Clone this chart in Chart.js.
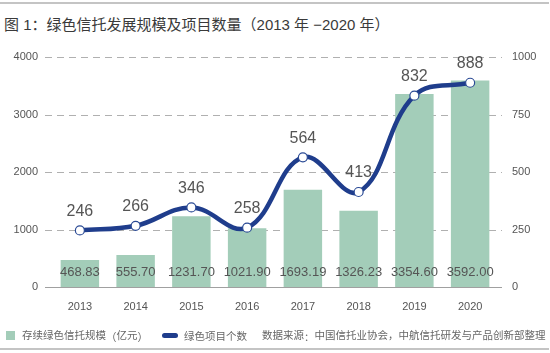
<!DOCTYPE html>
<html>
<head>
<meta charset="utf-8">
<script src="https://cdn.jsdelivr.net/npm/chart.js@4"></script>
<style>
  html, body { margin: 0; padding: 0; background: #fff; }
  body { width: 550px; height: 353px; position: relative; overflow: hidden;
         font-family: "Liberation Sans", "Noto Sans CJK SC", sans-serif; }
  .rule { position: absolute; left: 0; width: 549px; height: 2px; background: #c4c4c4; }
  #title { position: absolute; left: 4px; top: 13px; font-size: 15px; color: #3a3a3a; white-space: nowrap; }
  .cjk { font-family: "Noto Sans CJK SC", sans-serif; }
  #chartBox { position: absolute; left: 0; top: 0; width: 550px; height: 353px; }
  #legend { position: absolute; left: 6px; top: 327px; font-size: 10.5px; color: #666; white-space: nowrap; }
  #legend span { display: inline-block; vertical-align: middle; }
  .sq { width: 9px; height: 9px; background: #a3cdb9; margin-right: 7px; }
  .ln { width: 16px; height: 5px; border-radius: 3px; background: #1f3d8c; margin: 0 6px 0 14px; }
</style>
</head>
<body>
<div class="rule" style="top:2px"></div>
<div id="title">图 1<span class="cjk">：</span>绿色信托发展规模及项目数量<span class="cjk">（</span>2013 年 −2020 年<span class="cjk">）</span></div>
<div id="chartBox"><canvas id="chart"></canvas></div>
<div id="legend"><span class="sq"></span><span>存续绿色信托规模<span class="cjk">（</span>亿元<span class="cjk">）</span></span><span class="ln"></span><span>绿色项目个数</span><span style="margin-left:15px">数据来源<span class="cjk">：</span>中国信托业协会，中航信托研发与产品创新部整理</span></div>
<div class="rule" style="top:348px"></div>
<script>
// data
const years = ['2013', '2014', '2015', '2016', '2017', '2018', '2019', '2020'];
const scaleValues = [468.83, 555.70, 1231.70, 1021.90, 1693.19, 1326.23, 3354.60, 3592.00];
const projectCounts = [246, 266, 346, 258, 564, 413, 832, 888];
const leftTicks = [0, 1000, 2000, 3000, 4000];

const textFont = '"Liberation Sans", "Noto Sans CJK SC", sans-serif';

// dashed grid lines, a bit wider than the plot like the original
const gridPlugin = {
    id: 'gridLines',
    beforeDatasetsDraw(chart) {
        const ctx = chart.ctx;
        const yScale = chart.scales.y;
        const x0 = chart.chartArea.left - 7;
        const x1 = chart.chartArea.right + 4;
        ctx.save();
        for (const v of leftTicks) {
            const py = Math.round(yScale.getPixelForValue(v)) + 0.5;
            ctx.beginPath();
            ctx.strokeStyle = v === 0 ? '#a0a0a0' : '#b0b0b0';
            ctx.lineWidth = 1;
            ctx.setLineDash(v === 0 ? [] : [7, 5]);
            ctx.moveTo(x0, py);
            ctx.lineTo(x1, py);
            ctx.stroke();
        }
        ctx.restore();
    }
};

// value labels
const labelPlugin = {
    id: 'valueLabels',
    afterDatasetsDraw(chart) {
        const ctx = chart.ctx;
        ctx.save();
        ctx.fillStyle = '#555';
        ctx.textAlign = 'center';
        ctx.textBaseline = 'middle';
        ctx.font = '13px ' + textFont;
        chart.getDatasetMeta(1).data.forEach((bar, i) => {
            ctx.fillText(scaleValues[i].toFixed(2), bar.x, chart.chartArea.bottom - 15);
        });
        ctx.font = '16px ' + textFont;
        chart.getDatasetMeta(0).data.forEach((pt, i) => {
            ctx.fillText(String(projectCounts[i]), pt.x, pt.y - 19);
        });
        ctx.restore();
    }
};

new Chart(document.getElementById('chart'), {
    data: {
        labels: years,
        datasets: [
            {
                type: 'line',
                label: '绿色项目个数',
                data: projectCounts,
                yAxisID: 'y1',
                borderColor: '#1f3d8c',
                borderWidth: 4.5,
                tension: 0.4,
                pointRadius: 4.5,
                pointBackgroundColor: '#fff',
                pointBorderColor: '#2a4a95',
                pointBorderWidth: 1.2,
                order: 0
            },
            {
                type: 'bar',
                label: '存续绿色信托规模（亿元）',
                data: scaleValues,
                yAxisID: 'y',
                backgroundColor: '#a3cdb9',
                categoryPercentage: 0.69,
                barPercentage: 1,
                order: 1
            }
        ]
    },
    options: {
        responsive: true,
        maintainAspectRatio: false,
        animation: false,
        layout: { padding: { top: 57, bottom: 0, left: 0, right: 0 } },
        plugins: {
            legend: { display: false },
            tooltip: { enabled: false }
        },
        scales: {
            x: {
                grid: { display: false, drawTicks: false },
                border: { display: false },
                ticks: { color: '#555', font: { size: 11, family: textFont }, padding: 13 },
                afterFit(scale) { scale.height = 66; }
            },
            y: {
                position: 'left',
                min: 0, max: 4000,
                grid: { display: false, drawTicks: false },
                border: { display: false },
                ticks: {
                    stepSize: 1000, color: '#555', font: { size: 11, family: textFont }, padding: 14,
                    callback: v => String(v)
                },
                afterFit(scale) { scale.width = 52; }
            },
            y1: {
                position: 'right',
                min: 0, max: 1000,
                grid: { display: false, drawTicks: false },
                border: { display: false },
                ticks: {
                    stepSize: 250, color: '#555', font: { size: 11, family: textFont }, padding: 14,
                    callback: v => String(v)
                },
                afterFit(scale) { scale.width = 52; }
            }
        }
    },
    plugins: [gridPlugin, labelPlugin]
});
</script>
</body>
</html>
